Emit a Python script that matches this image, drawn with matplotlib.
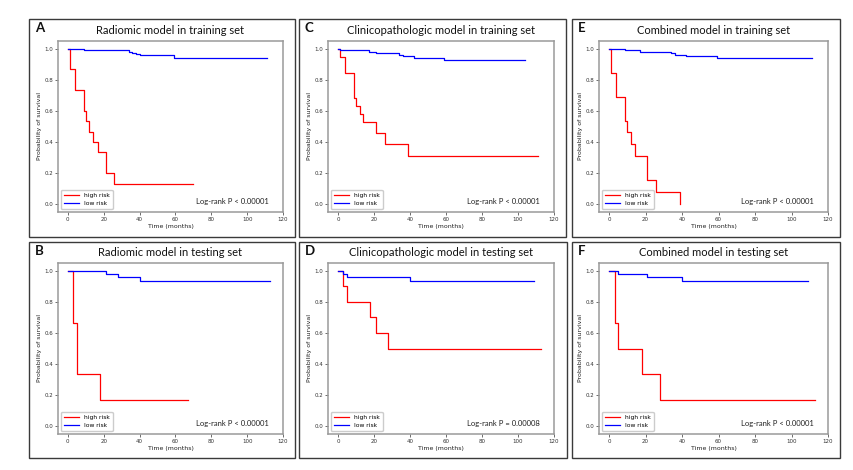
import matplotlib.pyplot as plt
from matplotlib.patches import Rectangle

W, H = 854, 470

# ---- data (time in months, survival probability) ----
a_high_t = [0, 1, 4, 9, 10, 12, 14, 17, 21, 26, 70]
a_high_s = [1.0, 0.867, 0.733, 0.6, 0.533, 0.467, 0.4, 0.333, 0.2, 0.133, 0.133]
a_low_t = [0, 9, 34, 36, 38, 40, 42, 59, 111]
a_low_s = [1.0, 0.989, 0.979, 0.974, 0.968, 0.962, 0.957, 0.94, 0.94]

b_high_t = [0, 3, 5, 18, 67]
b_high_s = [1.0, 0.667, 0.333, 0.167, 0.167]
b_low_t = [0, 21, 28, 40, 113]
b_low_s = [1.0, 0.978, 0.957, 0.935, 0.935]

c_high_t = [0, 1, 4, 9, 10, 12, 14, 21, 26, 39, 111]
c_high_s = [1.0, 0.947, 0.842, 0.684, 0.632, 0.579, 0.526, 0.456, 0.39, 0.31, 0.31]
c_low_t = [0, 1, 17, 21, 34, 36, 42, 59, 104]
c_low_s = [1.0, 0.99, 0.981, 0.974, 0.963, 0.953, 0.942, 0.929, 0.929]

d_high_t = [0, 3, 5, 18, 21, 28, 113]
d_high_s = [1.0, 0.9, 0.8, 0.7, 0.6, 0.5, 0.5]
d_low_t = [0, 3, 5, 40, 109]
d_low_s = [1.0, 0.98, 0.96, 0.936, 0.936]

e_high_t = [0, 1, 4, 9, 10, 12, 14, 21, 26, 39, 39]
e_high_s = [1.0, 0.846, 0.692, 0.538, 0.462, 0.385, 0.308, 0.154, 0.077, 0.0, 0.0]
e_low_t = [0, 9, 17, 34, 36, 42, 59, 111]
e_low_s = [1.0, 0.99, 0.981, 0.974, 0.963, 0.953, 0.94, 0.94]

f_high_t = [0, 3, 5, 18, 28, 113]
f_high_s = [1.0, 0.667, 0.5, 0.333, 0.167, 0.167]
f_low_t = [0, 5, 21, 40, 109]
f_low_s = [1.0, 0.981, 0.959, 0.937, 0.937]

letters = ['A', 'C', 'E', 'B', 'D', 'F']
titles = ['Radiomic model in training set', 'Clinicopathologic model in training set',
          'Combined model in training set', 'Radiomic model in testing set',
          'Clinicopathologic model in testing set', 'Combined model in testing set']
pvals = ['Log-rank P < 0.00001', 'Log-rank P < 0.00001', 'Log-rank P < 0.00001',
         'Log-rank P < 0.00001', 'Log-rank P = 0.00008', 'Log-rank P < 0.00001']
curves = [(a_high_t, a_high_s, a_low_t, a_low_s), (c_high_t, c_high_s, c_low_t, c_low_s),
          (e_high_t, e_high_s, e_low_t, e_low_s), (b_high_t, b_high_s, b_low_t, b_low_s),
          (d_high_t, d_high_s, d_low_t, d_low_s), (f_high_t, f_high_s, f_low_t, f_low_s)]

# layout in pixels (left, top, right, bottom)
boxes = [(29, 19, 295, 237), (299, 19, 566, 237), (572, 19, 840, 237),
         (29, 242, 295, 458), (299, 242, 567, 458), (572, 242, 840, 458)]
axes_px = [(58, 41, 283, 212), (328, 41, 554, 212), (599, 41, 828, 212),
           (58, 263, 283, 434), (328, 263, 554, 434), (599, 263, 828, 434)]

fig = plt.figure(figsize=(W / 100, H / 100), dpi=100)
fig.patch.set_facecolor('white')

for i in range(6):
    l, t, r, b = boxes[i]
    fig.patches.append(Rectangle((l / W, 1 - b / H), (r - l) / W, (b - t) / H,
                                 transform=fig.transFigure, fill=False,
                                 edgecolor='#3a3a3a', lw=1.0))
    fig.text((l + 6) / W, 1 - (t + 9) / H, letters[i], fontsize=9.5, fontweight='bold',
             family='Lato', ha='left', va='center', color='#111111')

    l, t, r, b = axes_px[i]
    ax = fig.add_axes([l / W, 1 - b / H, (r - l) / W, (b - t) / H])
    ht, hs, lt, ls = curves[i]
    ax.step(ht, hs, where='post', color='red', lw=0.9, label='high risk')
    ax.step(lt, ls, where='post', color='blue', lw=0.9, label='low risk')
    ax.set_xlim(-5.5, 120)
    ax.set_ylim(-0.05, 1.05)
    ax.set_xticks([0, 20, 40, 60, 80, 100, 120])
    ax.set_yticks([0.0, 0.2, 0.4, 0.6, 0.8, 1.0])
    ax.tick_params(labelsize=4, length=2, width=0.5, pad=1.5, colors='#333333')
    ax.set_xlabel('Time (months)', fontsize=4.5, labelpad=1.5, color='#222222')
    ax.set_ylabel('Probability of survival', fontsize=4.5, labelpad=2, color='#222222')
    for s in ax.spines.values():
        s.set_color('#9a9a9a')
        s.set_linewidth(1.1)
    ax.legend(loc='lower left', fontsize=4.3, handlelength=2.5, borderpad=0.5,
              labelspacing=0.4, framealpha=1, edgecolor='#cccccc', fancybox=True)
    ax.text(112, 0.02, pvals[i], fontsize=5.5, family='Lato', ha='right', va='center',
            color='#222222')
    ax.set_title(titles[i], fontsize=8, family='Lato', pad=5, color='#111111')

fig.savefig('out.png', dpi=100)
